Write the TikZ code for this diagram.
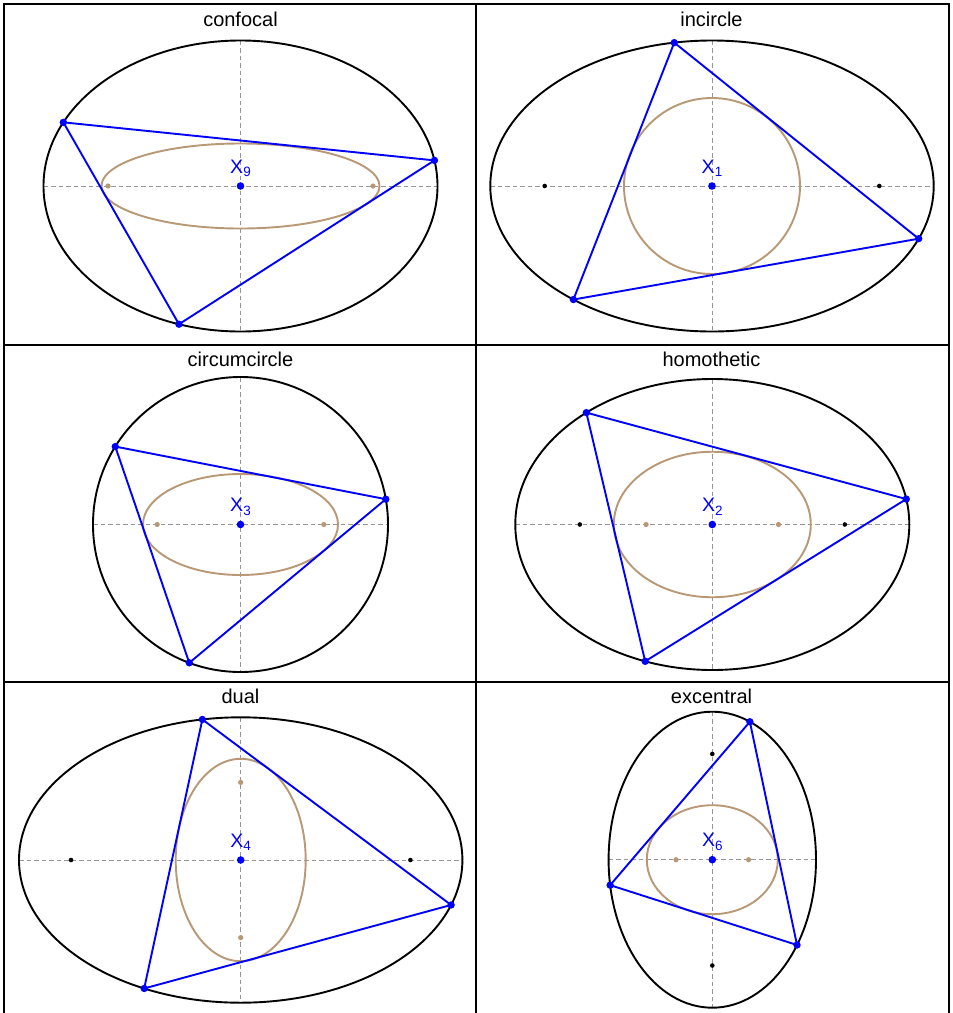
\documentclass[tikz,border=0pt]{standalone}
\usepackage{fontspec}
\setmainfont{Liberation Sans}
\definecolor{caus}{RGB}{185,152,118}
\definecolor{axisgray}{RGB}{150,150,150}
\newcommand\lsub[1]{\raisebox{-3.8pt}{\fontsize{13.5}{13.5}\selectfont #1}}
\tikzset{
  frameline/.style={line width=1.8pt},
  axisline/.style={draw=axisgray, line width=0.9pt, dash pattern=on 4.5pt off 3pt},
  conic/.style={draw=black, line width=1.9pt},
  caustic/.style={draw=caus, line width=1.9pt},
  tri/.style={draw=blue, line width=1.9pt, line join=round},
  titlelab/.style={anchor=base, inner sep=0pt, font=\fontsize{20}{24}\selectfont},
  xlab/.style={anchor=base, inner sep=0pt, text=blue, font=\fontsize{19.5}{21}\selectfont},
}
\newcommand\vdot[1]{\fill[blue] (#1) circle (3.7);}
\begin{document}
\begin{tikzpicture}[x=1pt,y=-1pt]
\useasboundingbox (0,0) rectangle (953,1013);
\fill[white] (0,0) rectangle (953,1013);

% ---------- panel 1: confocal ----------
\node[titlelab] (T1) at (240.5,26.5) {confocal};
\begin{scope}[shift={(240.5,186)}]
  \coordinate (O1) at (0,0);
  \draw[axisline] (-197,0) -- (197,0);
  \draw[axisline] (0,-145.5) -- (0,145.5);
  \draw[conic] (O1) ellipse [x radius=197, y radius=145.5];
  \draw[caustic] (O1) ellipse [x radius=139, y radius=42.5];
  \coordinate (A1) at (205.95:197 and 145.5);
  \coordinate (B1) at (-10.14:197 and 145.5);
  \coordinate (C1) at (108.2:197 and 145.5);
  \draw[tri] (A1) -- (B1) -- (C1) -- cycle;
  \fill[caus] (-132.5,0) circle (2.6);
  \fill[caus] (132.5,0) circle (2.6);
  \vdot{A1}\vdot{B1}\vdot{C1}
  \fill[blue] (O1) circle (3.8);
  \node[xlab] (L1) at (0,-13) {X\lsub{9}};
\end{scope}

% ---------- panel 2: incircle ----------
\node[titlelab] (T2) at (711.5,26.5) {incircle};
\begin{scope}[shift={(712,186)}]
  \coordinate (O2) at (0,0);
  \draw[axisline] (-221.7,0) -- (221.7,0);
  \draw[axisline] (0,-145.5) -- (0,145.5);
  \draw[conic] (O2) ellipse [x radius=221.7, y radius=145.5];
  \draw[caustic] (O2) circle (88);
  \coordinate (A2) at (260.2:221.7 and 145.5);
  \coordinate (B2) at (21.23:221.7 and 145.5);
  \coordinate (C2) at (128.7:221.7 and 145.5);
  \draw[tri] (A2) -- (B2) -- (C2) -- cycle;
  \fill[black] (-167.3,0) circle (2.3);
  \fill[black] (167.3,0) circle (2.3);
  \vdot{A2}\vdot{B2}\vdot{C2}
  \fill[blue] (O2) circle (3.8);
  \node[xlab] (L2) at (0,-13) {X\lsub{1}};
\end{scope}

% ---------- panel 3: circumcircle ----------
\node[titlelab] (T3) at (240.5,366.5) {circumcircle};
\begin{scope}[shift={(240.5,524.5)}]
  \coordinate (O3) at (0,0);
  \draw[axisline] (-147.5,0) -- (147.5,0);
  \draw[axisline] (0,-147.5) -- (0,147.5);
  \draw[conic] (O3) circle (147.5);
  \draw[caustic] (O3) ellipse [x radius=97.5, y radius=50.5];
  \coordinate (A3) at (211.9:147.5);
  \coordinate (B3) at (-9.89:147.5);
  \coordinate (C3) at (110.33:147.5);
  \draw[tri] (A3) -- (B3) -- (C3) -- cycle;
  \fill[caus] (-83.3,0) circle (2.6);
  \fill[caus] (83.3,0) circle (2.6);
  \vdot{A3}\vdot{B3}\vdot{C3}
  \fill[blue] (O3) circle (3.8);
  \node[xlab] (L3) at (0,-13) {X\lsub{3}};
\end{scope}

% ---------- panel 4: homothetic ----------
\node[titlelab] (T4) at (711.5,366.5) {homothetic};
\begin{scope}[shift={(712.3,524.5)}]
  \coordinate (O4) at (0,0);
  \draw[axisline] (-197,0) -- (197,0);
  \draw[axisline] (0,-145.5) -- (0,145.5);
  \draw[conic] (O4) ellipse [x radius=197, y radius=145.5];
  \draw[caustic] (O4) ellipse [x radius=98.5, y radius=72.75];
  \coordinate (A4) at (230.26:197 and 145.5);
  \coordinate (B4) at (-10.07:197 and 145.5);
  \coordinate (C4) at (109.92:197 and 145.5);
  \draw[tri] (A4) -- (B4) -- (C4) -- cycle;
  \fill[black] (-132.5,0) circle (2.3);
  \fill[black] (132.5,0) circle (2.3);
  \fill[caus] (-66.2,0) circle (2.6);
  \fill[caus] (66.2,0) circle (2.6);
  \vdot{A4}\vdot{B4}\vdot{C4}
  \fill[blue] (O4) circle (3.8);
  \node[xlab] (L4) at (0,-13) {X\lsub{2}};
\end{scope}

% ---------- panel 5: dual ----------
\node[titlelab] (T5) at (240.5,703) {dual};
\begin{scope}[shift={(240.7,860)}]
  \coordinate (O5) at (0,0);
  \draw[axisline] (-221.7,0) -- (221.7,0);
  \draw[axisline] (0,-142.7) -- (0,142.7);
  \draw[conic] (O5) ellipse [x radius=221.7, y radius=142.7];
  \draw[caustic] (O5) ellipse [x radius=65, y radius=101.2];
  \coordinate (A5) at (260.04:221.7 and 142.7);
  \coordinate (B5) at (18.36:221.7 and 142.7);
  \coordinate (C5) at (115.81:221.7 and 142.7);
  \draw[tri] (A5) -- (B5) -- (C5) -- cycle;
  \fill[black] (-169.7,0) circle (2.3);
  \fill[black] (169.7,0) circle (2.3);
  \fill[caus] (0,-77.6) circle (2.6);
  \fill[caus] (0,77.6) circle (2.6);
  \vdot{A5}\vdot{B5}\vdot{C5}
  \fill[blue] (O5) circle (3.8);
  \node[xlab] (L5) at (0,-13) {X\lsub{4}};
\end{scope}

% ---------- panel 6: excentral ----------
\node[titlelab] (T6) at (711.5,703) {excentral};
\begin{scope}[shift={(712.3,859.7)}]
  \coordinate (O6) at (0,0);
  \draw[axisline] (-103.7,0) -- (103.7,0);
  \draw[axisline] (0,-148) -- (0,148);
  \draw[conic] (O6) ellipse [x radius=103.7, y radius=148];
  \draw[caustic] (O6) ellipse [x radius=65.5, y radius=54.5];
  \coordinate (A6) at (-68.76:103.7 and 148);
  \coordinate (B6) at (35.2:103.7 and 148);
  \coordinate (C6) at (170.1:103.7 and 148);
  \draw[tri] (A6) -- (B6) -- (C6) -- cycle;
  \fill[black] (0,-105.8) circle (2.3);
  \fill[black] (0,105.8) circle (2.3);
  \fill[caus] (-36.3,0) circle (2.6);
  \fill[caus] (36.3,0) circle (2.6);
  \vdot{A6}\vdot{B6}\vdot{C6}
  \fill[blue] (O6) circle (3.8);
  \node[xlab] (L6) at (0,-13) {X\lsub{6}};
\end{scope}

% ---------- frame ----------
\draw[frameline] (4,1030) -- (4,4) -- (949,4) -- (949,1030);
\draw[frameline] (476,4) -- (476,1030);
\draw[frameline] (4,345) -- (949,345);
\draw[frameline] (4,682) -- (949,682);
\end{tikzpicture}
\end{document}
